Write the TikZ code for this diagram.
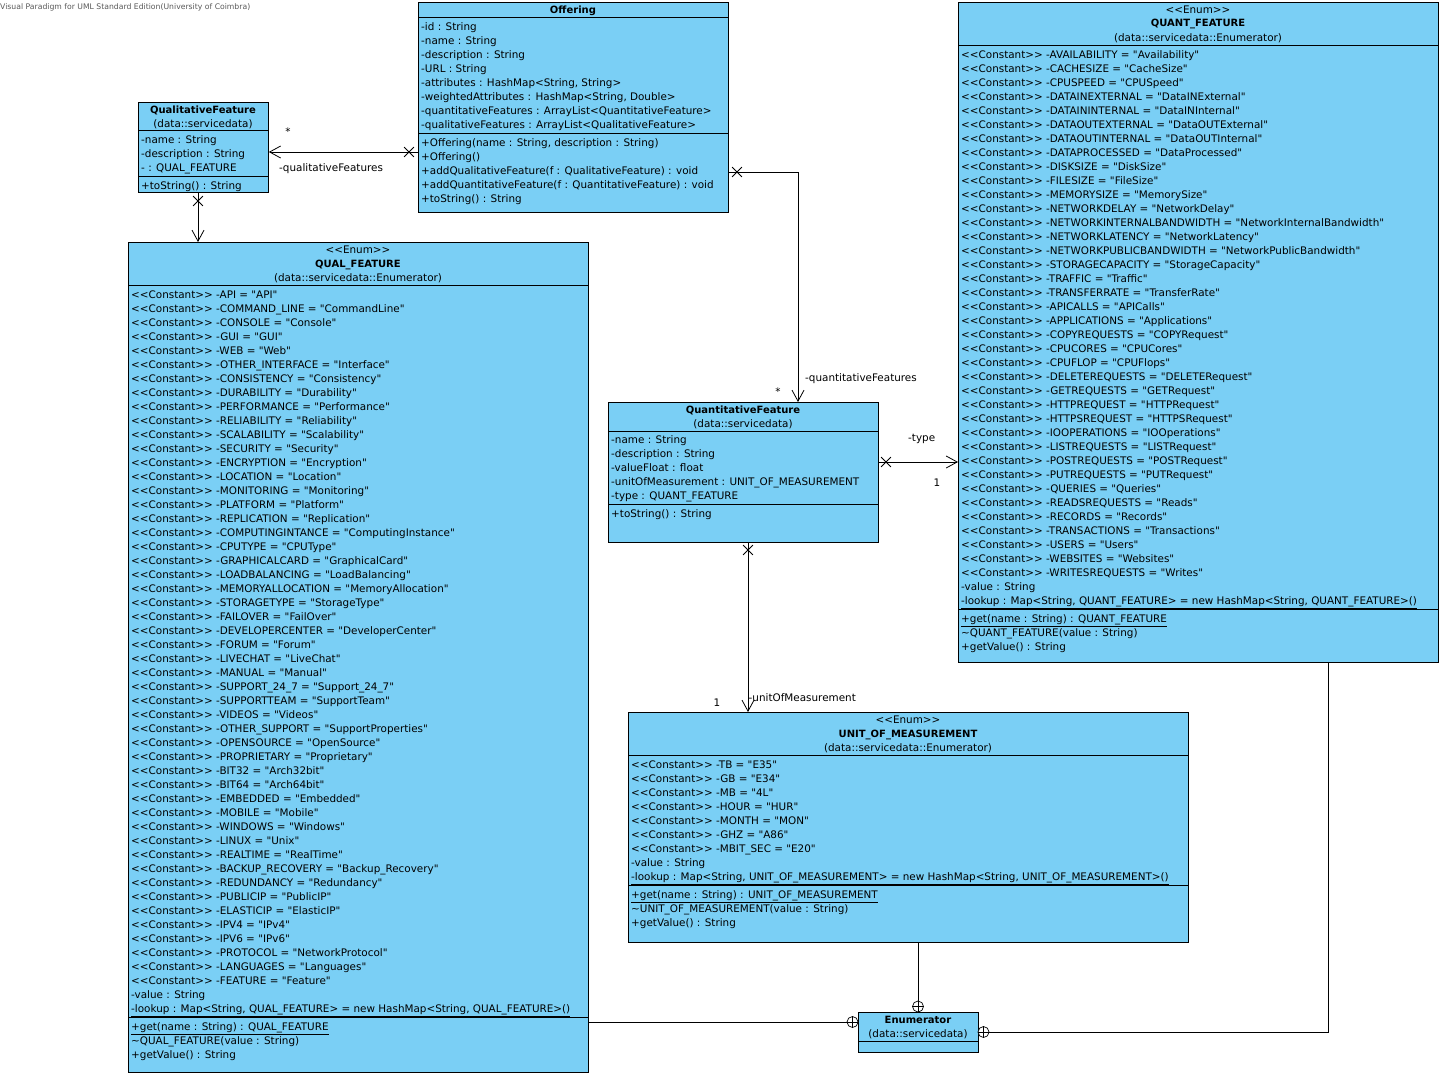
\documentclass[tikz,border=0pt]{standalone}
\usepackage{fontspec}
\setmainfont{DejaVu Sans}
\newfontfamily\vpf{DejaVu Sans}
\usetikzlibrary{arrows.meta,shapes.misc}
\definecolor{umlblue}{RGB}{122,207,245}
\newcommand\LL{<\kern0pt<}
\newcommand\GG{>\kern0pt>}
\newcommand\cst{\LL Constant\GG\ }
\tikzset{
 box/.style={draw, fill=umlblue, line width=0.8pt, inner sep=0pt, anchor=north west},
 txt/.style={inner sep=0pt, anchor=west, font=\vpf\fontsize{10.4}{12}\selectfont, text height=8pt, text depth=0pt},
 ttl/.style={txt, anchor=center},
 bld/.style={ttl, font=\vpf\fontsize{10}{12}\selectfont\bfseries},
 sepline/.style={line width=0.8pt},
 assoc/.style={line width=0.8pt},
 nav/.style={assoc, -{Straight Barb[length=11pt,width=12pt,line width=0.8pt]}},
 xm/.style={draw, cross out, minimum size=9pt, inner sep=0pt, line width=0.8pt},
 op/.style={draw, circle, minimum size=11pt, inner sep=0pt, line width=0.7pt, fill=white},
}
\begin{document}
\begin{tikzpicture}[x=1pt,y=-1pt]
\useasboundingbox (0,0) rectangle (1442,1076);
\node[txt, font=\vpf\fontsize{7.7}{9}\selectfont, text=black!65, text height=5.5pt] (hdr) at (0,7) {Visual Paradigm for UML Standard Edition(University of Coimbra)};

% ---------- QualitativeFeature
\node[box, minimum width=130pt, minimum height=90pt] (qlf) at (138,102) {};
\node[bld] (qlfT) at (203,109) {QualitativeFeature};
\node[ttl] (qlfP) at (203,123) {(data::servicedata)};
\draw[sepline] (qlf.west |- 0,130) -- (qlf.east |- 0,130);
\draw[sepline] (qlf.west |- 0,176) -- (qlf.east |- 0,176);
\foreach \t [count=\i from 0] in {{-name : String},{-description : String},{- : QUAL\_FEATURE}}
  \node[txt] (qlfa\i) at (141,139+14*\i) {\t};
\node[txt] (qlfm0) at (141,185) {+toString() : String};

% ---------- Offering
\node[box, minimum width=310pt, minimum height=210pt] (off) at (418,2) {};
\node[bld] (offT) at (573,9.5) {Offering};
\draw[sepline] (off.west |- 0,17) -- (off.east |- 0,17);
\draw[sepline] (off.west |- 0,133) -- (off.east |- 0,133);
\foreach \t [count=\i from 0] in {{-id : String},{-name : String},{-description : String},{-URL : String},
  {-attributes : HashMap<String, String>},{-weightedAttributes : HashMap<String, Double>},
  {-quantitativeFeatures : ArrayList<QuantitativeFeature>},{-qualitativeFeatures : ArrayList<QualitativeFeature>}}
  \node[txt] (offa\i) at (421,26+14*\i) {\t};
\foreach \t [count=\i from 0] in {{+Offering(name : String, description : String)},{+Offering()},
  {+addQualitativeFeature(f : QualitativeFeature) : void},{+addQuantitativeFeature(f : QuantitativeFeature) : void},
  {+toString() : String}}
  \node[txt] (offm\i) at (421,142+14*\i) {\t};

% ---------- QUAL_FEATURE
\node[box, minimum width=460pt, minimum height=830pt] (qle) at (128,242) {};
\node[ttl] (qleS) at (358,249) {\LL Enum\GG};
\node[bld] (qleT) at (358,263) {QUAL\_FEATURE};
\node[ttl] (qleP) at (358,277) {(data::servicedata::Enumerator)};
\draw[sepline] (qle.west |- 0,285) -- (qle.east |- 0,285);
\draw[sepline] (qle.west |- 0,1017) -- (qle.east |- 0,1017);
\foreach \t [count=\i from 0] in {{API = "API"},{COMMAND\_LINE = "CommandLine"},{CONSOLE = "Console"},{GUI = "GUI"},
  {WEB = "Web"},{OTHER\_INTERFACE = "Interface"},{CONSISTENCY = "Consistency"},{DURABILITY = "Durability"},
  {PERFORMANCE = "Performance"},{RELIABILITY = "Reliability"},{SCALABILITY = "Scalability"},{SECURITY = "Security"},
  {ENCRYPTION = "Encryption"},{LOCATION = "Location"},{MONITORING = "Monitoring"},{PLATFORM = "Platform"},
  {REPLICATION = "Replication"},{COMPUTINGINTANCE = "ComputingInstance"},{CPUTYPE = "CPUType"},
  {GRAPHICALCARD = "GraphicalCard"},{LOADBALANCING = "LoadBalancing"},{MEMORYALLOCATION = "MemoryAllocation"},
  {STORAGETYPE = "StorageType"},{FAILOVER = "FailOver"},{DEVELOPERCENTER = "DeveloperCenter"},{FORUM = "Forum"},
  {LIVECHAT = "LiveChat"},{MANUAL = "Manual"},{SUPPORT\_24\_7 = "Support\_24\_7"},{SUPPORTTEAM = "SupportTeam"},
  {VIDEOS = "Videos"},{OTHER\_SUPPORT = "SupportProperties"},{OPENSOURCE = "OpenSource"},
  {PROPRIETARY = "Proprietary"},{BIT32 = "Arch32bit"},{BIT64 = "Arch64bit"},{EMBEDDED = "Embedded"},
  {MOBILE = "Mobile"},{WINDOWS = "Windows"},{LINUX = "Unix"},{REALTIME = "RealTime"},
  {BACKUP\_RECOVERY = "Backup\_Recovery"},{REDUNDANCY = "Redundancy"},{PUBLICIP = "PublicIP"},
  {ELASTICIP = "ElasticIP"},{IPV4 = "IPv4"},{IPV6 = "IPv6"},{PROTOCOL = "NetworkProtocol"},
  {LANGUAGES = "Languages"},{FEATURE = "Feature"}}
  \node[txt] (qlec\i) at (131,294+14*\i) {\cst-\t};
\node[txt] (qlev) at (131,994) {-value : String};
\node[txt] (qlel) at (131,1008) {\underline{-lookup : Map<String, QUAL\_FEATURE> = new HashMap<String, QUAL\_FEATURE>()}};
\node[txt] (qlem0) at (131,1026) {\underline{+get(name : String) : QUAL\_FEATURE}};
\node[txt] (qlem1) at (131,1040) {\textasciitilde QUAL\_FEATURE(value : String)};
\node[txt] (qlem2) at (131,1054) {+getValue() : String};

% ---------- QuantitativeFeature
\node[box, minimum width=270pt, minimum height=140pt] (qnf) at (608,402) {};
\node[bld] (qnfT) at (743,409) {QuantitativeFeature};
\node[ttl] (qnfP) at (743,423) {(data::servicedata)};
\draw[sepline] (qnf.west |- 0,431) -- (qnf.east |- 0,431);
\draw[sepline] (qnf.west |- 0,504) -- (qnf.east |- 0,504);
\foreach \t [count=\i from 0] in {{-name : String},{-description : String},{-valueFloat : float},
  {-unitOfMeasurement : UNIT\_OF\_MEASUREMENT},{-type : QUANT\_FEATURE}}
  \node[txt] (qnfa\i) at (611,439+14*\i) {\t};
\node[txt] (qnfm0) at (611,513) {+toString() : String};

% ---------- QUANT_FEATURE
\node[box, minimum width=480pt, minimum height=660pt] (qtf) at (958,2) {};
\node[ttl] (qtfS) at (1198,9) {\LL Enum\GG};
\node[bld] (qtfT) at (1198,23) {QUANT\_FEATURE};
\node[ttl] (qtfP) at (1198,37) {(data::servicedata::Enumerator)};
\draw[sepline] (qtf.west |- 0,45) -- (qtf.east |- 0,45);
\draw[sepline] (qtf.west |- 0,609) -- (qtf.east |- 0,609);
\foreach \t [count=\i from 0] in {{AVAILABILITY = "Availability"},{CACHESIZE = "CacheSize"},{CPUSPEED = "CPUSpeed"},
  {DATAINEXTERNAL = "DataINExternal"},{DATAININTERNAL = "DataINInternal"},{DATAOUTEXTERNAL = "DataOUTExternal"},
  {DATAOUTINTERNAL = "DataOUTInternal"},{DATAPROCESSED = "DataProcessed"},{DISKSIZE = "DiskSize"},
  {FILESIZE = "FileSize"},{MEMORYSIZE = "MemorySize"},{NETWORKDELAY = "NetworkDelay"},
  {NETWORKINTERNALBANDWIDTH = "NetworkInternalBandwidth"},{NETWORKLATENCY = "NetworkLatency"},
  {NETWORKPUBLICBANDWIDTH = "NetworkPublicBandwidth"},{STORAGECAPACITY = "StorageCapacity"},
  {TRAFFIC = "Traffic"},{TRANSFERRATE = "TransferRate"},{APICALLS = "APICalls"},{APPLICATIONS = "Applications"},
  {COPYREQUESTS = "COPYRequest"},{CPUCORES = "CPUCores"},{CPUFLOP = "CPUFlops"},{DELETEREQUESTS = "DELETERequest"},
  {GETREQUESTS = "GETRequest"},{HTTPREQUEST = "HTTPRequest"},{HTTPSREQUEST = "HTTPSRequest"},
  {IOOPERATIONS = "IOOperations"},{LISTREQUESTS = "LISTRequest"},{POSTREQUESTS = "POSTRequest"},
  {PUTREQUESTS = "PUTRequest"},{QUERIES = "Queries"},{READSREQUESTS = "Reads"},{RECORDS = "Records"},
  {TRANSACTIONS = "Transactions"},{USERS = "Users"},{WEBSITES = "Websites"},{WRITESREQUESTS = "Writes"}}
  \node[txt] (qtfc\i) at (961,54+14*\i) {\cst-\t};
\node[txt] (qtfv) at (961,586) {-value : String};
\node[txt] (qtfl) at (961,600) {\underline{-lookup : Map<String, QUANT\_FEATURE> = new HashMap<String, QUANT\_FEATURE>()}};
\node[txt] (qtfm0) at (961,618) {\underline{+get(name : String) : QUANT\_FEATURE}};
\node[txt] (qtfm1) at (961,632) {\textasciitilde QUANT\_FEATURE(value : String)};
\node[txt] (qtfm2) at (961,646) {+getValue() : String};

% ---------- UNIT_OF_MEASUREMENT
\node[box, minimum width=560pt, minimum height=230pt] (uom) at (628,712) {};
\node[ttl] (uomS) at (908,719) {\LL Enum\GG};
\node[bld] (uomT) at (908,733) {UNIT\_OF\_MEASUREMENT};
\node[ttl] (uomP) at (908,747) {(data::servicedata::Enumerator)};
\draw[sepline] (uom.west |- 0,755) -- (uom.east |- 0,755);
\draw[sepline] (uom.west |- 0,885) -- (uom.east |- 0,885);
\foreach \t [count=\i from 0] in {{TB = "E35"},{GB = "E34"},{MB = "4L"},{HOUR = "HUR"},{MONTH = "MON"},
  {GHZ = "A86"},{MBIT\_SEC = "E20"}}
  \node[txt] (uomc\i) at (631,764+14*\i) {\cst-\t};
\node[txt] (uomv) at (631,862) {-value : String};
\node[txt] (uoml) at (631,876) {\underline{-lookup : Map<String, UNIT\_OF\_MEASUREMENT> = new HashMap<String, UNIT\_OF\_MEASUREMENT>()}};
\node[txt] (uomm0) at (631,894) {\underline{+get(name : String) : UNIT\_OF\_MEASUREMENT}};
\node[txt] (uomm1) at (631,908) {\textasciitilde UNIT\_OF\_MEASUREMENT(value : String)};
\node[txt] (uomm2) at (631,922) {+getValue() : String};

% ---------- Enumerator
\node[box, minimum width=120pt, minimum height=40pt] (enu) at (858,1012) {};
\node[bld] (enuT) at (918,1019) {Enumerator};
\node[ttl] (enuP) at (918,1033) {(data::servicedata)};
\draw[sepline] (enu.west |- 0,1041) -- (enu.east |- 0,1041);

% ---------- connectors
\node[xm] (x1) at (409,152) {};
\draw[nav] (off.west |- 0,152) -- (qlf.east |- 0,152);
\node[txt, anchor=center] (m1) at (288,131) {*};
\node[txt] (l1) at (279,167) {-qualitativeFeatures};

\node[xm] (x2) at (198,201) {};
\draw[nav] (198,0 |- qlf.south) -- (198,0 |- qle.north);

\node[xm] (x3) at (737,172) {};
\draw[nav] (off.east |- 0,172) -| (798,0 |- qnf.north);
\node[txt] (l3) at (805,377) {-quantitativeFeatures};
\node[txt, anchor=center] (m3) at (778,391) {*};

\node[xm] (x4) at (886,462) {};
\draw[nav] (qnf.east |- 0,462) -- (qtf.west |- 0,462);
\node[txt] (l4) at (908,437) {-type};
\node[txt, anchor=center] (m4) at (937,482) {1};

\node[xm] (x5) at (748,550) {};
\draw[nav] (748,0 |- qnf.south) -- (748,0 |- uom.north);
\node[txt] (l5) at (748.5,697) {-unitOfMeasurement};
\node[txt, anchor=center] (m5) at (717,702) {1};

\node[op] (o1) at (918,1006.5) {};
\draw[assoc] (o1.north) -- (o1.south) (o1.west) -- (o1.east);
\draw[assoc] (918,0 |- uom.south) -- (o1);

\node[op] (o2) at (852.5,1022) {};
\draw[assoc] (o2.north) -- (o2.south) (o2.west) -- (o2.east);
\draw[assoc] (qle.east |- 0,1022) -- (o2);

\node[op] (o3) at (983.5,1032) {};
\draw[assoc] (o3.north) -- (o3.south) (o3.west) -- (o3.east);
\draw[assoc] (1328,0 |- qtf.south) |- (o3);
\end{tikzpicture}
\end{document}
